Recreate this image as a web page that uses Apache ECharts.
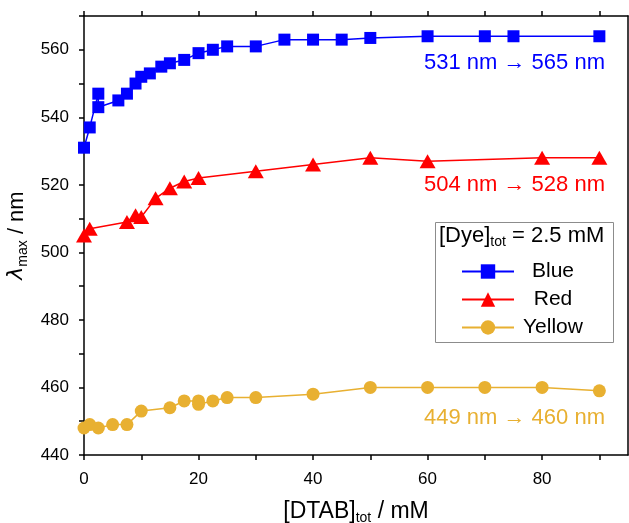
<!DOCTYPE html>
<html>
<head>
<meta charset="utf-8">
<script src="https://cdn.jsdelivr.net/npm/echarts/dist/echarts.min.js"></script>
<style>
  html, body { margin: 0; padding: 0; background: #fff; }
  #main { width: 629px; height: 523px; }
</style>
</head>
<body>
<div id="main"></div>
<script>
// 数据
const blueX = [0, 1, 2.5, 2.5, 6, 7.5, 9, 10, 11.5, 13.5, 15, 17.5, 20, 22.5, 25, 30, 35, 40, 45, 50, 60, 70, 75, 90]
const blueY = [531, 537, 547, 543, 545, 547, 550, 552, 553, 555, 556, 557, 559, 560, 561, 561, 563, 563, 563, 563.5, 564, 564, 564, 564]

const redX = [0, 1, 7.5, 9, 10, 12.5, 15, 17.5, 20, 30, 40, 50, 60, 80, 90]
const redY = [505, 507, 509, 511, 510.5, 516, 519, 521, 522, 524, 526, 528, 527, 528, 528]

const yellowX = [0, 1, 2.5, 5, 7.5, 10, 15, 17.5, 20, 20, 22.5, 25, 30, 40, 50, 60, 70, 80, 90]
const yellowY = [448, 449, 448, 449, 449, 453, 454, 456, 456, 455, 456, 457, 457, 458, 460, 460, 460, 460, 459]

const xTicks = [0, 10, 20, 30, 40, 50, 60, 70, 80, 90]
const xLabels = [0, 20, 40, 60, 80]
const yTicks = [440, 450, 460, 470, 480, 490, 500, 510, 520, 530, 540, 550, 560, 570]
const yLabels = [440, 460, 480, 500, 520, 540, 560]

const FONT = 'Liberation Sans, Arial, sans-serif'
const BLUE = '#0000ff'
const RED = '#ff0000'
const YELLOW = '#e8b031'

const pairs = (xs, ys) => xs.map((x, i) => [x, ys[i]])

const chart = echarts.init(document.getElementById('main'), null, { renderer: 'canvas' })

const axisLineStyle = { color: '#000', width: 1.5 }

chart.setOption({
  animation: false,
  backgroundColor: '#fff',
  textStyle: { fontFamily: FONT },
  grid: { left: 84, right: 1, top: 16, bottom: 68, containLabel: false, outerBoundsMode: 'none' },
  xAxis: [
    {
      type: 'value', min: 0, max: 95, position: 'bottom',
      axisLine: { onZero: false, lineStyle: axisLineStyle },
      axisTick: { inside: false, length: 5, lineStyle: axisLineStyle, customValues: xTicks },
      axisLabel: { customValues: xLabels, color: '#000', fontSize: 17, fontFamily: FONT, margin: 16 },
      splitLine: { show: false },
      name: '{a|[DTAB]}{s|tot}{a| / mM}',
      nameLocation: 'middle', nameGap: 43,
      nameTextStyle: {
        rich: {
          a: { fontSize: 23, color: '#000', fontFamily: FONT },
          s: { fontSize: 14, color: '#000', fontFamily: FONT, padding: [13, 0, 0, 0] }
        }
      }
    },
    {
      type: 'value', min: 0, max: 95, position: 'top',
      axisLine: { onZero: false, lineStyle: axisLineStyle },
      axisTick: { inside: false, length: 5, lineStyle: axisLineStyle, customValues: xTicks },
      axisLabel: { show: false },
      splitLine: { show: false }
    }
  ],
  yAxis: [
    {
      type: 'value', min: 440, max: 570, position: 'left',
      axisLine: { onZero: false, lineStyle: axisLineStyle },
      axisTick: { inside: false, length: 5, lineStyle: axisLineStyle, customValues: yTicks },
      axisLabel: { customValues: yLabels, color: '#000', fontSize: 17, fontFamily: FONT, margin: 15 },
      splitLine: { show: false },
      name: '{i|λ}{s|max}{a| / nm}',
      nameLocation: 'middle', nameGap: 50, nameRotate: 90,
      nameTextStyle: {
        rich: {
          i: { fontSize: 22, color: '#000', fontStyle: 'italic', fontFamily: 'DejaVu Sans', fontWeight: 'normal' },
          a: { fontSize: 22, color: '#000', fontFamily: FONT },
          s: { fontSize: 14, color: '#000', fontFamily: FONT, padding: [12, 0, 0, 0] }
        }
      }
    },
    {
      type: 'value', min: 440, max: 570, position: 'right',
      axisLine: { onZero: false, lineStyle: axisLineStyle },
      axisTick: { show: false },
      axisLabel: { show: false },
      splitLine: { show: false }
    }
  ],
  legend: {
    orient: 'vertical',
    left: 456, top: 256,
    itemWidth: 52, itemHeight: 18, itemGap: 7,
    formatter: '{t|{name}}',
    textStyle: {
      color: '#000', fontSize: 21, fontFamily: FONT,
      rich: { t: { width: 68, align: 'center', fontSize: 21, fontFamily: FONT, color: '#000' } }
    },
    data: ['Blue', 'Red', 'Yellow']
  },
  graphic: [
    {
      type: 'rect', left: 435, top: 222,
      shape: { width: 178, height: 120 },
      style: { fill: 'rgba(0,0,0,0)', stroke: '#8c8c8c', lineWidth: 1 },
      z: 1
    },
    {
      type: 'text', left: 439, top: 225,
      style: {
        text: '{a|[Dye]}{s|tot}{a| = 2.5 mM}',
        rich: {
          a: { fontSize: 22, fill: '#000', fontFamily: FONT },
          s: { fontSize: 14, fill: '#000', fontFamily: FONT, padding: [12, 0, 0, 0] }
        }
      }
    },
    {
      type: 'text', right: 24, top: 52,
      style: { text: '531 nm → 565 nm', fontSize: 22, fill: BLUE, fontFamily: FONT }
    },
    {
      type: 'text', right: 24, top: 174,
      style: { text: '504 nm → 528 nm', fontSize: 22, fill: RED, fontFamily: FONT }
    },
    {
      type: 'text', right: 24, top: 407,
      style: { text: '449 nm → 460 nm', fontSize: 22, fill: YELLOW, fontFamily: FONT }
    }
  ],
  series: [
    {
      name: 'Blue', type: 'line', data: pairs(blueX, blueY),
      symbol: 'rect', symbolSize: 12,
      itemStyle: { color: BLUE },
      lineStyle: { color: BLUE, width: 1.5 }
    },
    {
      name: 'Red', type: 'line', data: pairs(redX, redY),
      symbol: 'triangle', symbolSize: [16, 14],
      itemStyle: { color: RED },
      lineStyle: { color: RED, width: 1.5 }
    },
    {
      name: 'Yellow', type: 'line', data: pairs(yellowX, yellowY),
      symbol: 'circle', symbolSize: 13,
      itemStyle: { color: YELLOW },
      lineStyle: { color: YELLOW, width: 1.5 }
    }
  ]
})
</script>
</body>
</html>
